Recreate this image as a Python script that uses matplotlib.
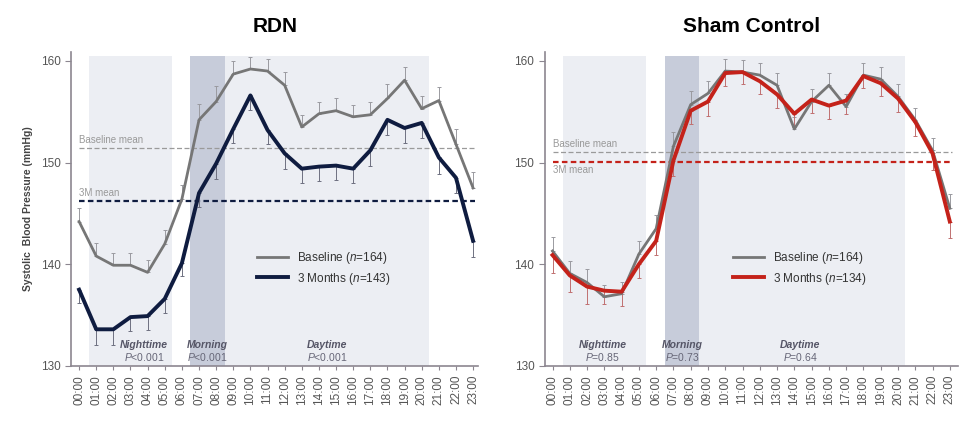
import matplotlib.pyplot as plt

plt.rcParams['font.family'] = ['Liberation Sans', 'DejaVu Sans']
plt.rcParams['mathtext.fontset'] = 'custom'
plt.rcParams['mathtext.it'] = 'Liberation Sans:italic'
plt.rcParams['mathtext.rm'] = 'Liberation Sans'

# hourly ambulatory systolic BP
hours = ["%02d:00" % h for h in range(24)]

rdn_base = [144.2, 140.8, 139.9, 139.9, 139.2, 142.0, 146.4, 154.2, 156.0, 158.7, 159.2, 159.0,
            157.6, 153.5, 154.8, 155.1, 154.5, 154.7, 156.3, 158.1, 155.3, 156.1, 151.8, 147.5]
rdn_base_err = [1.3, 1.3, 1.2, 1.2, 1.2, 1.4, 1.4, 1.6, 1.5, 1.3, 1.2, 1.2,
                1.3, 1.2, 1.2, 1.2, 1.2, 1.3, 1.4, 1.3, 1.2, 1.3, 1.5, 1.6]
rdn_3m = [137.5, 133.6, 133.6, 134.8, 134.9, 136.6, 140.1, 147.0, 149.9, 153.3, 156.6, 153.2,
          150.9, 149.4, 149.6, 149.7, 149.4, 151.2, 154.2, 153.4, 153.9, 150.5, 148.5, 142.3]
rdn_3m_err = [1.3, 1.5, 1.5, 1.4, 1.4, 1.4, 1.3, 1.4, 1.5, 1.4, 1.4, 1.4,
              1.5, 1.4, 1.4, 1.4, 1.4, 1.5, 1.5, 1.5, 1.5, 1.6, 1.5, 1.6]

sham_base = [141.3, 139.1, 138.2, 136.8, 137.1, 141.0, 143.5, 151.6, 155.7, 156.8, 159.0, 158.9,
             158.6, 157.6, 153.3, 156.0, 157.6, 155.5, 158.6, 158.2, 156.5, 154.2, 151.2, 145.5]
sham_base_err = [1.4, 1.2, 1.3, 1.2, 1.2, 1.3, 1.3, 1.4, 1.3, 1.2, 1.2, 1.2,
                 1.2, 1.2, 1.2, 1.2, 1.2, 1.2, 1.2, 1.2, 1.2, 1.2, 1.2, 1.4]
sham_3m = [140.9, 138.9, 137.8, 137.4, 137.3, 140.0, 142.3, 150.2, 155.1, 156.0, 158.8, 158.9,
           158.0, 156.7, 154.8, 156.2, 155.6, 156.1, 158.5, 157.8, 156.3, 154.0, 150.9, 144.2]
sham_3m_err = [1.8, 1.6, 1.7, 1.3, 1.4, 1.4, 1.4, 1.5, 1.3, 1.4, 1.3, 1.2,
               1.3, 1.3, 1.3, 1.3, 1.3, 1.3, 1.2, 1.3, 1.3, 1.4, 1.6, 1.6]

panels = [
    dict(title="RDN", base=rdn_base, base_err=rdn_base_err, m3=rdn_3m, m3_err=rdn_3m_err,
         color="#0f1c40", ecolor="#6e7080", n3="143", base_mean=151.4, m3_mean=146.2,
         m3_label_below=False,
         labels=[("Nighttime", "P<0.001", 3.8), ("Morning", "P<0.001", 7.5), ("Daytime", "P<0.001", 14.5)],
         rect=[0.073, 0.137, 0.416, 0.741], xmax=23.3),
    dict(title="Sham Control", base=sham_base, base_err=sham_base_err, m3=sham_3m, m3_err=sham_3m_err,
         color="#c4221a", ecolor="#c07070", n3="134", base_mean=151.0, m3_mean=150.1,
         m3_label_below=True,
         labels=[("Nighttime", "P=0.85", 2.9), ("Morning", "P=0.73", 7.5), ("Daytime", "P=0.64", 14.35)],
         rect=[0.557, 0.137, 0.423, 0.741], xmax=23.5),
]

fig = plt.figure(figsize=(9.78, 4.24), dpi=100)
x = list(range(24))
axcol = "#8c8690"
txtcol = "#555555"

for i, p in enumerate(panels):
    ax = fig.add_axes(p["rect"])
    ax.set_xlim(-0.45, p["xmax"])
    ax.set_ylim(130, 160.9)

    # time-of-day windows
    ax.axvspan(0.58, 5.4, ymax=0.985, color="#eceef3", lw=0, zorder=0)
    ax.axvspan(6.5, 8.5, ymax=0.985, color="#c7ccda", lw=0, zorder=0)
    ax.axvspan(8.5, 20.4, ymax=0.985, color="#eceef3", lw=0, zorder=0)

    # mean reference lines
    ax.plot([0, 23.1], [p["base_mean"]] * 2, ls=(0, (4, 2)), lw=0.9, color="#9a9a9a", zorder=1)
    ax.plot([0, 23.1], [p["m3_mean"]] * 2, ls=(0, (2.5, 1.5)), lw=1.6, color=p["color"], zorder=1)
    ax.text(0, p["base_mean"] + 0.3, "Baseline mean", fontsize=7, color="#999999", va="bottom")
    if p["m3_label_below"]:
        ax.text(0, p["m3_mean"] - 0.3, "3M mean", fontsize=7, color="#999999", va="top")
    else:
        ax.text(0, p["m3_mean"] + 0.3, "3M mean", fontsize=7, color="#999999", va="bottom")

    # error bars (baseline up, 3 months down)
    zeros = [0] * 24
    ax.errorbar(x, p["base"], yerr=[zeros, p["base_err"]], fmt="none", ecolor="#9a9aa0",
                elinewidth=0.7, capsize=1.2, capthick=0.7, zorder=2, clip_on=False)
    ax.errorbar(x, p["m3"], yerr=[p["m3_err"], zeros], fmt="none", ecolor=p["ecolor"],
                elinewidth=0.7, capsize=1.2, capthick=0.7, zorder=2, clip_on=False)

    l1, = ax.plot(x, p["base"], color="#767676", lw=2.0, zorder=3)
    l2, = ax.plot(x, p["m3"], color=p["color"], lw=2.8, zorder=4)

    ax.legend([l1, l2], ["Baseline ($n$=164)", "3 Months ($n$=%s)" % p["n3"]],
              loc="center left", bbox_to_anchor=(0.43, 0.31), frameon=False, fontsize=8.5,
              handlelength=2.6, labelcolor="#333333", labelspacing=0.35)

    for name, pv, xc in p["labels"]:
        ax.text(xc, 132.1, name, fontsize=7.5, style="italic", fontweight="bold",
                color="#555566", ha="center", va="center")
        ax.text(xc, 130.85, "$P$" + pv[1:], fontsize=7.5, color="#666677", ha="center", va="center")

    ax.set_title(p["title"], fontsize=15, fontweight="bold", pad=14)
    ax.set_yticks([130, 140, 150, 160])
    ax.set_xticks(x)
    ax.set_xticklabels(hours, rotation=90, fontsize=8.5, color=txtcol)
    ax.tick_params(axis="y", labelsize=8.5, labelcolor=txtcol, color=axcol, length=4)
    ax.tick_params(axis="x", color=axcol, length=3)
    for s in ["top", "right"]:
        ax.spines[s].set_visible(False)
    for s in ["left", "bottom"]:
        ax.spines[s].set_color(axcol)
        ax.spines[s].set_linewidth(1.2)
    if i == 0:
        ax.set_ylabel("Systolic  Blood Pressure (mmHg)", fontsize=7.5, fontweight="bold",
                      color="#444444", labelpad=6)

fig.savefig("out.png", dpi=100)
